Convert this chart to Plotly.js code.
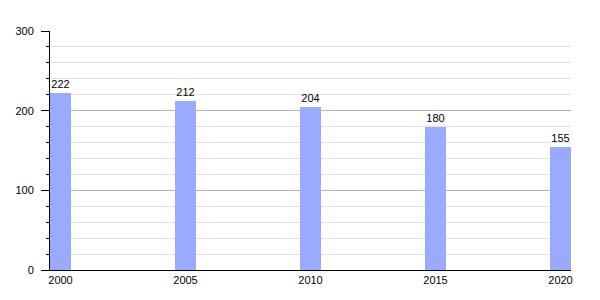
<!DOCTYPE html>
<html><head><meta charset="utf-8">
<script src="https://cdn.plot.ly/plotly-3.0.1.min.js"></script>
<style>html,body{margin:0;padding:0;background:#fff}#chart{width:600px;height:300px}</style>
</head><body><div id="chart"></div>
<script>
const years = [2000, 2005, 2010, 2015, 2020];
const values = [222, 212, 204, 180, 155];
const yTicks = [0, 100, 200, 300];

Plotly.newPlot('chart', [{
  type: 'bar',
  x: years,
  y: values,
  width: 0.84,
  marker: {color: '#99aaff', line: {width: 0}},
  text: values.map(String),
  textposition: 'outside',
  cliponaxis: false,
  textfont: {family: 'Liberation Sans, Arial, sans-serif', size: 11, color: '#000'},
  hoverinfo: 'none'
}], {
  width: 600, height: 300,
  margin: {l: 50, r: 29, t: 31, b: 30},
  paper_bgcolor: '#fff', plot_bgcolor: '#fff',
  showlegend: false,
  font: {family: 'Liberation Sans, Arial, sans-serif', size: 11, color: '#000'},
  xaxis: {
    range: [1999.58, 2020.42],
    tickvals: years, ticktext: years.map(String),
    showgrid: false, zeroline: false,
    showline: true, linecolor: '#000', linewidth: 1,
    ticks: '', ticklen: 0,
    tickfont: {size: 11, color: '#000'}
  },
  yaxis: {
    range: [0, 300],
    tickvals: yTicks,
    showgrid: true, gridcolor: '#b4b4b4', gridwidth: 1,
    zeroline: false,
    showline: true, linecolor: '#000', linewidth: 1,
    ticks: 'outside', ticklen: 8, tickcolor: '#000', tickwidth: 1,
    ticklabelstandoff: 5,
    tickfont: {size: 11, color: '#000'},
    minor: {dtick: 20, tick0: 0, showgrid: true, gridcolor: '#e2e2e2', gridwidth: 1,
            ticks: 'outside', ticklen: 3, tickcolor: '#000'}
  },
  bargap: 0
}, {staticPlot: true, displayModeBar: false});
</script></body></html>
